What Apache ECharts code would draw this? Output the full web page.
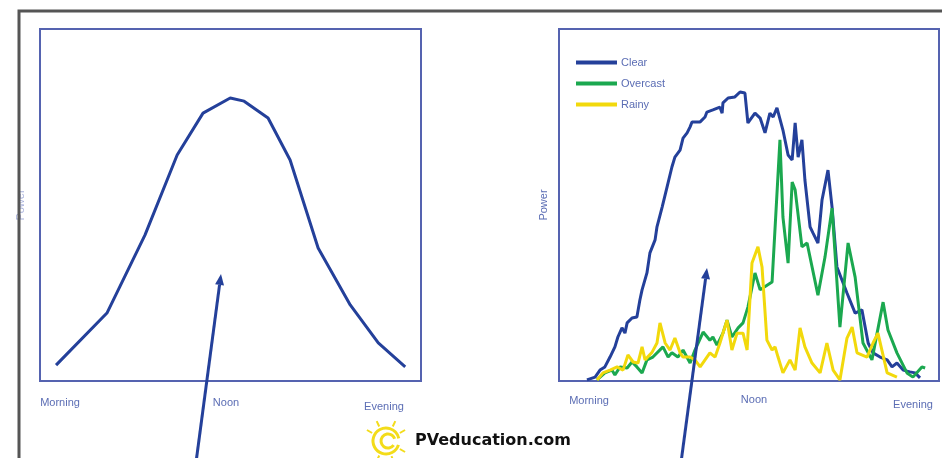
<!DOCTYPE html>
<html>
<head>
<meta charset="utf-8">
<script src="https://cdn.jsdelivr.net/npm/echarts@6/dist/echarts.min.js"></script>
<style>
  html, body { margin: 0; padding: 0; background: #fff; }
  #main { width: 942px; height: 458px; }
</style>
</head>
<body>
<div id="main"></div>
<script>
// time of day in hours, power in % of peak
var idealHours = [5.59, 7.46, 8.86, 10.04, 10.99, 11.99, 12.5, 13.38, 14.19, 15.22, 16.4, 17.43, 18.42];
var idealPower = [4.5, 19.3, 41.5, 64.2, 76.1, 80.4, 79.5, 74.7, 62.8, 37.8, 21.6, 10.8, 4.0];

var clearHours = [6.03, 6.33, 6.51, 6.69, 6.88, 7.06, 7.17, 7.32, 7.43, 7.51, 7.69, 7.87, 7.98, 8.06, 8.24, 8.35, 8.54, 8.61, 8.80, 8.98,
  9.16, 9.27, 9.46, 9.57, 9.72, 9.83, 9.90, 10.20, 10.38, 10.45, 10.67, 10.93, 11.01, 11.04, 11.23, 11.48, 11.67, 11.85, 11.96, 12.22,
  12.41, 12.59, 12.77, 12.89, 13.03, 13.25, 13.44, 13.59, 13.70, 13.81, 13.95, 14.06, 14.25, 14.36, 14.54, 14.69, 14.91, 15.06, 15.24, 15.61,
  15.91, 16.16, 16.39, 16.57, 16.83, 17.09, 17.27, 17.45, 17.68, 17.93, 18.12, 18.30];
var clearPower = [0.3, 1.1, 3.1, 4.0, 6.8, 9.7, 12.5, 15.1, 13.6, 16.5, 17.9, 18.2, 23.0, 25.9, 30.7, 36.4, 40.1, 43.8, 49.4, 55.1,
  60.8, 63.6, 65.6, 69.0, 70.5, 72.2, 73.6, 73.6, 75.0, 76.4, 77.0, 77.8, 76.1, 79.0, 80.4, 80.7, 82.1, 81.8, 73.3, 76.1,
  74.7, 70.5, 76.1, 75.0, 77.6, 71.3, 64.2, 62.8, 73.3, 63.6, 68.5, 57.1, 43.8, 42.0, 39.2, 51.4, 59.9, 49.4, 32.4, 25.0,
  19.3, 20.2, 10.8, 8.0, 6.8, 6.0, 4.0, 5.1, 3.1, 2.6, 2.3, 0.9];

var overcastHours = [6.40, 6.69, 6.95, 7.06, 7.25, 7.51, 7.69, 7.87, 8.06, 8.24, 8.46, 8.83, 9.02, 9.16, 9.38, 9.57, 9.83, 10.01, 10.31, 10.56,
  10.67, 10.82, 11.04, 11.19, 11.37, 11.60, 11.78, 11.96, 12.22, 12.41, 12.85, 13.14, 13.25, 13.44, 13.59, 13.70, 13.95, 14.14, 14.54, 14.80,
  15.06, 15.35, 15.65, 15.91, 16.20, 16.53, 16.94, 17.12, 17.45, 17.82, 18.04, 18.37, 18.49];
var overcastPower = [0.3, 2.3, 3.1, 1.7, 4.0, 3.7, 5.4, 4.0, 2.3, 6.0, 6.8, 9.7, 6.8, 8.0, 6.8, 8.8, 5.1, 8.8, 13.9, 11.6,
  12.5, 10.2, 13.6, 17.3, 12.5, 15.1, 16.5, 21.0, 30.7, 25.9, 28.1, 68.5, 46.6, 33.5, 56.5, 54.3, 38.1, 39.2, 24.4, 35.2,
  49.1, 15.3, 39.2, 29.5, 10.8, 6.0, 22.4, 14.5, 8.0, 2.3, 1.1, 4.0, 3.7];

var rainyHours = [6.40, 6.62, 6.88, 7.14, 7.36, 7.54, 7.73, 7.91, 8.06, 8.17, 8.43, 8.61, 8.72, 8.91, 9.09, 9.27, 9.46, 9.57, 9.83, 10.01,
  10.20, 10.38, 10.56, 10.75, 10.93, 11.19, 11.37, 11.56, 11.78, 11.93, 12.11, 12.33, 12.48, 12.66, 12.85, 12.96, 13.07, 13.25, 13.51, 13.70,
  13.88, 14.06, 14.32, 14.62, 14.87, 15.10, 15.35, 15.61, 15.80, 15.98, 16.35, 16.57, 16.75, 17.09, 17.45];
var rainyPower = [0.3, 2.3, 3.1, 4.0, 3.1, 7.4, 5.4, 5.1, 9.7, 6.0, 8.2, 10.8, 16.5, 10.8, 8.8, 12.2, 8.0, 6.8, 6.8, 6.0,
  4.0, 6.0, 8.0, 6.8, 10.8, 17.3, 8.8, 13.6, 13.6, 8.8, 33.5, 38.1, 32.4, 11.6, 8.8, 9.7, 6.8, 2.3, 6.0, 3.1,
  15.1, 9.7, 5.1, 2.3, 10.8, 3.1, 0.3, 12.2, 15.3, 8.0, 6.8, 10.8, 13.6, 2.3, 1.1];

var timeLabels = ['Morning', 'Noon', 'Evening'];
var legendNames = ['Clear', 'Overcast', 'Rainy'];

function pairs(xs, ys) {
  var out = [];
  for (var i = 0; i < xs.length; i++) out.push([xs[i], ys[i]]);
  return out;
}

var chart = echarts.init(document.getElementById('main'));

var labelColor = '#5b6db4';
var boxColor = '#5563b0';
var font = 'Liberation Sans, Arial, sans-serif';

function xAxisOf(i) {
  return {
    gridIndex: i, type: 'value', min: 5, max: 19,
    axisLine: { show: false }, axisTick: { show: false },
    axisLabel: { show: false }, splitLine: { show: false }
  };
}
function yAxisOf(i, nameGap, nameColor) {
  return {
    gridIndex: i, type: 'value', min: 0, max: 100,
    name: 'Power', nameLocation: 'middle', nameGap: nameGap, nameRotate: 90,
    nameTextStyle: { color: nameColor, fontSize: 11, fontFamily: font },
    axisLine: { show: false }, axisTick: { show: false },
    axisLabel: { show: false }, splitLine: { show: false }
  };
}

// arrow helper for the annotation arrows
function arrow(x1, y1, x2, y2) {
  var ang = Math.atan2(y2 - y1, x2 - x1);
  var len = 11, w = 4.5;
  var bx = x2 - len * Math.cos(ang), by = y2 - len * Math.sin(ang);
  var px = -Math.sin(ang) * w, py = Math.cos(ang) * w;
  return [
    { type: 'line', z: 50, shape: { x1: x1, y1: y1, x2: bx, y2: by },
      style: { stroke: '#24409a', lineWidth: 3 } },
    { type: 'polygon', z: 50, shape: { points: [[x2, y2], [bx + px, by + py], [bx - px, by - py]] },
      style: { fill: '#24409a' } }
  ];
}

var sunRays = [];
[-60, -25, 25, 60, 120, 160, 205].forEach(function (deg) {
  var a = deg * Math.PI / 180;
  sunRays.push({
    type: 'line', z: 40,
    shape: { x1: 386 + Math.sin(a) * 16, y1: 441 - Math.cos(a) * 16, x2: 386 + Math.sin(a) * 22, y2: 441 - Math.cos(a) * 22 },
    style: { stroke: '#f3dc1a', lineWidth: 2 }
  });
});

function label(text, x, y) {
  return { type: 'text', x: x, y: y,
    style: { text: text, fill: labelColor, font: '11px ' + font, align: 'center', verticalAlign: 'middle' } };
}

var graphics = [
  // outer frame
  { type: 'polyline', z: 60, shape: { points: [[19, 458], [19, 11], [942, 11]] },
    style: { stroke: '#555555', lineWidth: 3, fill: null } },
  label(timeLabels[0], 60, 403),
  label(timeLabels[1], 226, 403),
  label(timeLabels[2], 384, 407),
  label(timeLabels[0], 589, 401),
  label(timeLabels[1], 754, 400),
  label(timeLabels[2], 913, 405),
  // logo
  { type: 'arc', z: 40, shape: { cx: 386, cy: 441, r: 13, startAngle: 0.3, endAngle: Math.PI * 2 - 0.2 },
    style: { stroke: '#f3dc1a', lineWidth: 3, fill: null } },
  { type: 'arc', z: 40, shape: { cx: 388, cy: 441, r: 7, startAngle: Math.PI * 0.2, endAngle: Math.PI * 1.9 },
    style: { stroke: '#f3dc1a', lineWidth: 3, fill: null } },
  { type: 'text', z: 40, x: 415, y: 441, style: { text: 'PVeducation.com', fill: '#111', font: 'bold 16px DejaVu Sans, sans-serif', verticalAlign: 'middle' } }
].concat(sunRays, arrow(195, 470, 221, 274), arrow(680, 470, 707, 268));

var option = {
  animation: false,
  backgroundColor: '#ffffff',
  grid: [
    { left: 40, top: 29, width: 381, height: 352, show: true, borderColor: boxColor, borderWidth: 2, backgroundColor: 'transparent' },
    { left: 559, top: 29, width: 380, height: 352, show: true, borderColor: boxColor, borderWidth: 2, backgroundColor: 'transparent' }
  ],
  legend: {
    data: legendNames, orient: 'vertical', left: 571, top: 52,
    itemWidth: 41, itemHeight: 4, itemGap: 10, icon: 'rect',
    textStyle: { color: labelColor, fontSize: 11, fontFamily: font, padding: [0, 0, 0, -1] }
  },
  xAxis: [xAxisOf(0), xAxisOf(1)],
  yAxis: [yAxisOf(0, 14, '#aab3dc'), yAxisOf(1, 10, labelColor)],
  series: [
    { name: 'Ideal', type: 'line', xAxisIndex: 0, yAxisIndex: 0, showSymbol: false,
      data: pairs(idealHours, idealPower), lineStyle: { color: '#24409a', width: 3 } },
    { name: legendNames[0], type: 'line', xAxisIndex: 1, yAxisIndex: 1, showSymbol: false,
      color: '#24409a', data: pairs(clearHours, clearPower), lineStyle: { color: '#24409a', width: 3 } },
    { name: legendNames[1], type: 'line', xAxisIndex: 1, yAxisIndex: 1, showSymbol: false,
      color: '#1ba84f', data: pairs(overcastHours, overcastPower), lineStyle: { color: '#1ba84f', width: 3 } },
    { name: legendNames[2], type: 'line', xAxisIndex: 1, yAxisIndex: 1, showSymbol: false,
      color: '#f2d90c', data: pairs(rainyHours, rainyPower), lineStyle: { color: '#f2d90c', width: 3 } }
  ],
  graphic: graphics
};

chart.setOption(option);
</script>
</body>
</html>
